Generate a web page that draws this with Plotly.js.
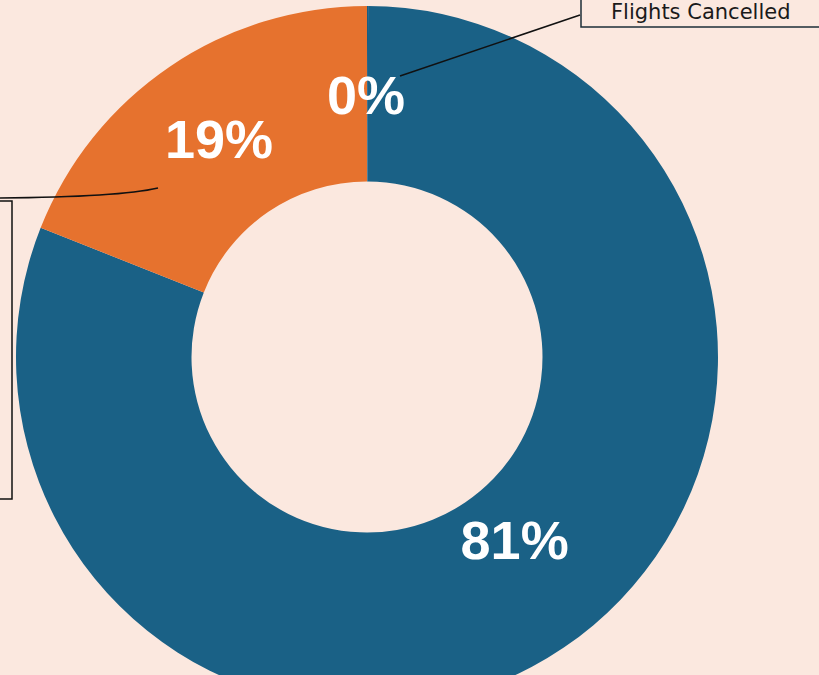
<!DOCTYPE html>
<html>
<head>
<meta charset="utf-8">
<script src="https://cdn.plot.ly/plotly-3.0.1.min.js"></script>
<style>
html,body{margin:0;padding:0;overflow:hidden;background:#FBE8DF;}
#chart{width:819px;height:720px;}
</style>
</head>
<body>
<div id="chart"></div>
<script>
const categories = ["Flights Cancelled", "Flights On Time", "Flights Delayed"];
const values = [0.05, 80.95, 19.0];
const colors = ["#1B5C80", "#1A6186", "#E6722E"];

const W = 819, H = 720;
const px = x => x / W;
const py = y => 1 - y / H;

const total = values.reduce((a, b) => a + b, 0);
const cancelledPct = Math.round(values[0] / total * 100) + "%";

const trace = {
  type: "pie",
  labels: categories,
  values: values,
  sort: false,
  direction: "clockwise",
  rotation: 0,
  hole: 0.5,
  marker: {colors: colors, line: {width: 0}},
  textinfo: "percent",
  texttemplate: ["", "%{percent:.0%}<br> ", "%{percent:.0%}"],
  textposition: ["none", "inside", "inside"],
  insidetextorientation: "horizontal",
  textfont: {family: "Liberation Sans, Arial, sans-serif", size: 54, color: "#FFFFFF", weight: "bold"},
  domain: {x: [16 / W, 718 / W], y: [12 / H, 714 / H]},
  showlegend: false,
  hoverinfo: "label+percent"
};

const layout = {
  width: W,
  height: H,
  margin: {l: 0, r: 0, t: 0, b: 0},
  paper_bgcolor: "#FBE8DF",
  plot_bgcolor: "#FBE8DF",
  showlegend: false,
  shapes: [
    {type: "rect", xref: "paper", yref: "paper", x0: px(-40), x1: px(12), y0: py(499), y1: py(201),
     line: {color: "#111111", width: 1.5}, fillcolor: "rgba(0,0,0,0)"},
    {type: "path", xref: "paper", yref: "paper",
     path: `M ${px(0)},${py(198)} Q ${px(120)},${py(197)} ${px(158)},${py(188)}`,
     line: {color: "#111111", width: 1.5}},
    {type: "rect", xref: "paper", yref: "paper", x0: px(581), x1: px(840), y0: py(27), y1: py(-20),
     line: {color: "#1C2E38", width: 1.5}, fillcolor: "rgba(0,0,0,0)"},
    {type: "line", xref: "paper", yref: "paper", x0: px(580), y0: py(15), x1: px(400), y1: py(76),
     line: {color: "#111111", width: 1.5}}
  ],
  annotations: [
    {text: cancelledPct, xref: "paper", yref: "paper", x: px(366), y: py(95), showarrow: false,
     xanchor: "center", yanchor: "middle",
     font: {family: "Liberation Sans, Arial, sans-serif", size: 54, color: "#FFFFFF", weight: "bold"}},
    {text: "Flights Cancelled", xref: "paper", yref: "paper", x: px(700), y: py(26), showarrow: false,
     xanchor: "center", yanchor: "bottom",
     font: {family: "DejaVu Sans, sans-serif", size: 21, color: "#1A1A1A"}}
  ]
};

Plotly.newPlot("chart", [trace], layout, {displayModeBar: false, staticPlot: true});
</script>
</body>
</html>
